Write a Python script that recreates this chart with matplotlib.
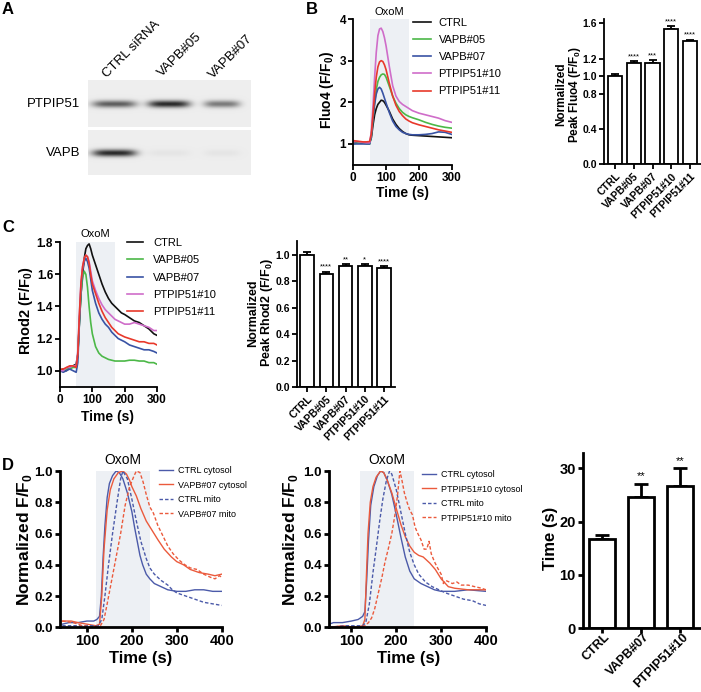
import numpy as np
import matplotlib.pyplot as plt
import matplotlib.transforms as mtransforms

plt.rcParams['font.family'] = ['Liberation Sans', 'DejaVu Sans']
plt.rcParams['mathtext.fontset'] = 'custom'
plt.rcParams['mathtext.rm'] = 'Liberation Sans'
plt.rcParams['mathtext.bf'] = 'Liberation Sans:bold'

# ---------------- data ----------------
# A: western blot band strengths (0..1) per lane
lanes = ['CTRL siRNA', 'VAPB#05', 'VAPB#07']
ptpip51_band = [0.62, 0.85, 0.50]
vapb_band = [0.85, 0.04, 0.04]

groups = ['CTRL', 'VAPB#05', 'VAPB#07', 'PTPIP51#10', 'PTPIP51#11']

# B: Fluo4 traces
t_b = [0, 10, 20, 30, 40, 50, 55, 60, 65, 70, 75, 80, 85, 90, 95, 100, 110, 120, 130, 140,
       150, 160, 170, 180, 200, 220, 240, 260, 280, 300]
fluo_ctrl = [1.05, 1.04, 1.03, 1.02, 1.02, 1.03, 1.15, 1.45, 1.70, 1.85, 1.95, 2.00, 2.05, 2.04, 2.00,
             1.93, 1.78, 1.60, 1.47, 1.37, 1.30, 1.25, 1.22, 1.21, 1.20, 1.19, 1.18, 1.17, 1.16, 1.15]
fluo_v05 = [1.00, 1.02, 1.03, 1.02, 1.00, 1.00, 1.20, 1.60, 2.00, 2.30, 2.50, 2.60, 2.66, 2.68, 2.67,
            2.60, 2.38, 2.15, 1.98, 1.85, 1.76, 1.70, 1.66, 1.63, 1.58, 1.52, 1.47, 1.43, 1.40, 1.38]
fluo_v07 = [1.00, 1.00, 1.00, 1.00, 1.00, 1.00, 1.20, 1.60, 1.95, 2.20, 2.32, 2.36, 2.32, 2.22, 2.10,
            1.98, 1.75, 1.55, 1.42, 1.34, 1.28, 1.25, 1.23, 1.22, 1.22, 1.23, 1.25, 1.29, 1.28, 1.23]
fluo_p10 = [1.05, 1.06, 1.05, 1.04, 1.03, 1.03, 1.30, 1.90, 2.60, 3.20, 3.60, 3.76, 3.78, 3.70, 3.55,
            3.35, 2.85, 2.40, 2.15, 2.02, 1.95, 1.90, 1.85, 1.80, 1.74, 1.70, 1.66, 1.62, 1.56, 1.52]
fluo_p11 = [1.08, 1.07, 1.06, 1.05, 1.05, 1.06, 1.25, 1.70, 2.20, 2.60, 2.85, 2.97, 3.00, 2.98, 2.90,
            2.78, 2.45, 2.15, 1.93, 1.78, 1.68, 1.60, 1.55, 1.51, 1.46, 1.42, 1.38, 1.34, 1.31, 1.28]
fluo_peak = [1.00, 1.155, 1.155, 1.535, 1.395]
fluo_err = [0.02, 0.02, 0.03, 0.035, 0.02]
fluo_stars = ['', '****', '***', '****', '****']

# C: Rhod2 traces
t_c = [0, 10, 20, 30, 40, 50, 55, 60, 65, 70, 75, 80, 85, 90, 95, 100, 110, 120, 130, 140,
       150, 160, 170, 180, 190, 200, 215, 230, 245, 260, 275, 290, 300]
rhod_ctrl = [1.00, 1.01, 1.00, 1.02, 1.03, 1.04, 1.10, 1.30, 1.48, 1.60, 1.70, 1.76, 1.78, 1.79, 1.76,
             1.72, 1.66, 1.60, 1.54, 1.49, 1.45, 1.42, 1.40, 1.38, 1.36, 1.35, 1.33, 1.31, 1.30, 1.28,
             1.26, 1.23, 1.22]
rhod_v05 = [1.00, 1.00, 1.01, 1.01, 1.02, 1.02, 1.10, 1.30, 1.48, 1.58, 1.62, 1.60, 1.52, 1.40, 1.30,
            1.23, 1.15, 1.11, 1.09, 1.08, 1.07, 1.065, 1.06, 1.06, 1.06, 1.06, 1.065, 1.065, 1.06, 1.06,
            1.05, 1.05, 1.04]
rhod_v07 = [1.00, 0.99, 1.00, 1.01, 1.00, 0.99, 1.05, 1.30, 1.52, 1.63, 1.68, 1.70, 1.68, 1.64, 1.57,
            1.50, 1.42, 1.36, 1.32, 1.29, 1.27, 1.24, 1.22, 1.20, 1.19, 1.18, 1.16, 1.15, 1.14, 1.13,
            1.13, 1.12, 1.11]
rhod_p10 = [1.00, 1.00, 1.02, 1.02, 1.03, 1.03, 1.12, 1.35, 1.55, 1.65, 1.70, 1.72, 1.71, 1.68, 1.62,
            1.56, 1.50, 1.45, 1.41, 1.38, 1.36, 1.34, 1.32, 1.31, 1.30, 1.29, 1.29, 1.30, 1.29, 1.28,
            1.27, 1.25, 1.25]
rhod_p11 = [1.01, 1.01, 1.02, 1.03, 1.03, 1.02, 1.10, 1.35, 1.55, 1.65, 1.70, 1.72, 1.71, 1.67, 1.60,
            1.54, 1.48, 1.42, 1.37, 1.33, 1.30, 1.27, 1.25, 1.23, 1.22, 1.21, 1.20, 1.19, 1.18, 1.18,
            1.17, 1.17, 1.16]
rhod_peak = [1.00, 0.855, 0.92, 0.915, 0.90]
rhod_err = [0.02, 0.02, 0.012, 0.015, 0.018]
rhod_stars = ['', '****', '**', '*', '****']

# D left: CTRL vs VAPB#07
t_d1_cc = [45, 60, 80, 100, 115, 122, 128, 132, 136, 140, 145, 150, 157, 165, 172, 180, 190, 200, 206,
           212, 218, 224, 232, 240, 250, 265, 280, 300, 320, 340, 360, 380, 400]
d1_ctrl_cyto = [0.02, 0.03, 0.03, 0.04, 0.04, 0.05, 0.07, 0.20, 0.45, 0.65, 0.83, 0.92, 0.97, 1.00, 0.99,
                0.95, 0.86, 0.74, 0.64, 0.55, 0.46, 0.40, 0.34, 0.31, 0.28, 0.26, 0.24, 0.23, 0.23, 0.24,
                0.24, 0.23, 0.23]
t_d1_cm = [45, 70, 100, 125, 133, 140, 148, 157, 167, 175, 180, 190, 200, 210, 220, 232, 240, 250, 265,
           280, 290, 300, 320, 340, 360, 380, 400]
d1_ctrl_mito = [0.01, 0.01, 0.01, 0.01, 0.05, 0.20, 0.40, 0.60, 0.80, 0.95, 1.00, 0.95, 0.82, 0.68, 0.55,
                0.44, 0.38, 0.34, 0.30, 0.27, 0.24, 0.22, 0.20, 0.18, 0.16, 0.15, 0.14]
t_d1_vc = [45, 65, 80, 100, 120, 128, 133, 138, 145, 152, 160, 170, 180, 188, 195, 200, 210, 220, 232,
           245, 258, 272, 288, 300, 315, 330, 350, 370, 385, 400]
d1_vapb_cyto = [0.04, 0.04, 0.03, 0.02, 0.01, 0.02, 0.20, 0.50, 0.75, 0.88, 0.95, 0.99, 1.00, 0.98, 0.94,
                0.90, 0.84, 0.76, 0.68, 0.62, 0.56, 0.50, 0.45, 0.42, 0.40, 0.37, 0.35, 0.34, 0.33, 0.34]
t_d1_vm = [45, 70, 90, 110, 130, 138, 145, 155, 165, 175, 185, 195, 205, 210, 218, 225, 232, 240, 248,
           258, 270, 280, 292, 305, 318, 330, 345, 360, 375, 385, 395, 400]
d1_vapb_mito = [0.04, 0.03, 0.01, 0.00, 0.01, 0.05, 0.15, 0.30, 0.45, 0.60, 0.78, 0.90, 0.97, 1.00, 0.99,
                0.93, 0.85, 0.77, 0.73, 0.65, 0.58, 0.52, 0.47, 0.43, 0.40, 0.38, 0.37, 0.34, 0.32, 0.31,
                0.33, 0.32]

# D middle: CTRL vs PTPIP51#10
t_d2_cc = [50, 60, 80, 100, 115, 125, 130, 134, 138, 143, 150, 158, 165, 172, 180, 190, 200, 210, 220,
           230, 240, 255, 270, 285, 300, 330, 360, 400]
d2_ctrl_cyto = [0.02, 0.03, 0.03, 0.04, 0.05, 0.07, 0.10, 0.30, 0.55, 0.78, 0.90, 0.97, 1.00, 0.99, 0.94,
                0.85, 0.72, 0.58, 0.45, 0.36, 0.31, 0.28, 0.26, 0.24, 0.23, 0.23, 0.24, 0.23]
t_d2_pc = [50, 80, 110, 125, 130, 133, 137, 142, 148, 155, 165, 172, 180, 190, 200, 210, 220, 230, 240,
           250, 260, 275, 287, 300, 316, 330, 360, 400]
d2_p10_cyto = [0.00, 0.01, 0.00, 0.01, 0.05, 0.30, 0.60, 0.80, 0.90, 0.96, 1.00, 0.99, 0.94, 0.86, 0.76,
               0.66, 0.58, 0.52, 0.48, 0.46, 0.45, 0.41, 0.37, 0.31, 0.26, 0.25, 0.24, 0.24]
t_d2_cm = [50, 90, 125, 132, 140, 148, 155, 163, 170, 178, 185, 190, 200, 210, 220, 230, 240, 250, 265,
           280, 295, 310, 330, 350, 370, 385, 400]
d2_ctrl_mito = [0.00, 0.01, 0.01, 0.03, 0.15, 0.35, 0.50, 0.68, 0.82, 0.94, 1.00, 0.98, 0.88, 0.74, 0.60,
                0.48, 0.40, 0.34, 0.29, 0.26, 0.24, 0.22, 0.20, 0.18, 0.17, 0.15, 0.14]
t_d2_pm = [50, 120, 130, 138, 145, 152, 160, 168, 175, 182, 190, 197, 203, 208, 212, 218, 224, 230, 236,
           242, 248, 255, 262, 268, 273, 278, 285, 292, 300, 305, 310, 318, 325, 335, 345, 360, 375, 390,
           400]
d2_p10_mito = [0.00, 0.00, 0.01, 0.03, 0.06, 0.12, 0.22, 0.32, 0.42, 0.50, 0.60, 0.72, 0.85, 1.00, 0.95,
               0.86, 0.80, 0.75, 0.72, 0.64, 0.60, 0.56, 0.50, 0.50, 0.55, 0.47, 0.42, 0.38, 0.34, 0.28,
               0.30, 0.29, 0.28, 0.29, 0.27, 0.27, 0.26, 0.25, 0.24]

# D right: time to peak
ttp_groups = ['CTRL', 'VAPB#07', 'PTPIP51#10']
ttp_mean = [16.7, 24.7, 26.7]
ttp_err = [0.7, 2.4, 3.3]
ttp_stars = ['', '**', '**']

# ---------------- figure ----------------
W, H = 701, 692
fig = plt.figure(figsize=(W / 100, H / 100), dpi=100)


def box(x0, y0, x1, y1):
    return fig.add_axes([x0 / W, 1 - y1 / H, (x1 - x0) / W, (y1 - y0) / H])


def ftext(x, y, s, **kw):
    return fig.text(x / W, 1 - y / H, s, **kw)


def style(ax, lw, fs):
    for s in ['top', 'right']:
        ax.spines[s].set_visible(False)
    for s in ['left', 'bottom']:
        ax.spines[s].set_linewidth(lw)
    ax.tick_params(width=lw, length=3.5, labelsize=fs, pad=1.5)
    for lab in ax.get_xticklabels() + ax.get_yticklabels():
        lab.set_fontweight('bold')


shade = '#edf0f4'
c_black, c_green, c_blue, c_mag, c_red = '#111111', '#4cb848', '#3953a4', '#cf6dc9', '#e8392b'
d_blue, d_red = '#4b5aa9', '#eb5a3c'

# ---- A: blot ----
for y0, y1, bands, cy in [(80, 127, ptpip51_band, 24), (130, 175, vapb_band, 23)]:
    ax = box(88, y0, 251, y1)
    hh = y1 - y0
    X, Y = np.meshgrid(np.arange(163) + 0.5, np.arange(hh) + 0.5)
    img = np.full(X.shape, 0.93)
    for cx, hw, a in zip([114.5 - 88, 169 - 88, 222 - 88], [22, 21, 18], bands):
        img -= a * 0.9 * np.exp(-((X - cx) / hw) ** 4) * np.exp(-((Y - cy) / 3.6) ** 2)
    ax.imshow(img, cmap='gray', vmin=0, vmax=1, extent=(0, 163, hh, 0), aspect='auto',
              interpolation='bilinear')
    ax.axis('off')
ftext(80, 104, 'PTPIP51', ha='right', va='center', fontsize=9.5)
ftext(80, 153, 'VAPB', ha='right', va='center', fontsize=9.5)
for (lx, ly), name in zip([(107, 78), (162, 77), (213, 79)], lanes):
    ftext(lx, ly, name, rotation=45, ha='left', va='baseline', rotation_mode='anchor', fontsize=9.5)

# ---- B: Fluo4 traces ----
ax = box(353.3, 19, 451.7, 164.8)
ax.axvspan(50, 170, color=shade, lw=0, zorder=0)
for vals, col, name in zip([fluo_ctrl, fluo_v05, fluo_v07, fluo_p10, fluo_p11],
                           [c_black, c_green, c_blue, c_mag, c_red], groups):
    ax.plot(t_b, vals, color=col, lw=1.2, label=name)
ax.set_xlim(0, 300)
ax.set_ylim(0.5, 4)
ax.set_xticks([0, 100, 200, 300])
ax.set_yticks([1, 2, 3, 4])
style(ax, 1.3, 8.5)
ax.text(110, 4.05, 'OxoM', ha='center', va='bottom', fontsize=8)
ax.legend(loc='upper left', bbox_to_anchor=(413 / W, 1 - 18 / H), bbox_transform=fig.transFigure,
          frameon=False, fontsize=8, handlelength=1.6, handletextpad=0.7, labelspacing=0.64,
          borderpad=0, borderaxespad=0)
ftext(402, 193, 'Time (s)', ha='center', va='center', fontsize=10, fontweight='bold')
ftext(327, 90, r'Fluo4 (F/F$_{\mathbf{0}}$)', ha='center', va='center', rotation=90,
      fontsize=10, fontweight='bold')

# ---- B: peak bars ----
ax = box(604, 19, 701, 164.3)
x = np.arange(len(groups))
ax.bar(x, fluo_peak, width=0.75, color='white', edgecolor='black', lw=1.3, zorder=2)
ax.errorbar(x, fluo_peak, yerr=[np.zeros(5), fluo_err], fmt='none', ecolor='black', elinewidth=1.3,
            capsize=3, capthick=1.3, zorder=1)
for i, s in enumerate(fluo_stars):
    ax.text(i, fluo_peak[i] + fluo_err[i] + 0.01, s, ha='center', va='bottom', fontsize=5.5)
ax.set_xlim(-0.59, 4.59)
ax.set_ylim(0, 1.65)
ax.set_yticks([0, 0.4, 0.8, 1.0, 1.2, 1.6])
ax.set_yticklabels(['0.0', '0.4', '0.8', '1.0', '1.2', '1.6'])
ax.set_xticks(x)
ax.set_xticklabels(groups, rotation=45, ha='right', rotation_mode='anchor')
style(ax, 1.3, 7.5)
ftext(569, 94, 'Normailzed\n' + r'Peak Fluo4 (F/F$_{\mathbf{0}}$)', ha='center', va='center',
      rotation=90, fontsize=8.5, fontweight='bold', linespacing=1.0)

# ---- C: Rhod2 traces ----
ax = box(60, 242.3, 157, 386.7)
ax.axvspan(50, 170, color=shade, lw=0, zorder=0)
for vals, col, name in zip([rhod_ctrl, rhod_v05, rhod_v07, rhod_p10, rhod_p11],
                           [c_black, c_green, c_blue, c_mag, c_red], groups):
    ax.plot(t_c, vals, color=col, lw=1.2, label=name)
ax.set_xlim(0, 300)
ax.set_ylim(0.9, 1.8)
ax.set_xticks([0, 100, 200, 300])
ax.set_yticks([1.0, 1.2, 1.4, 1.6, 1.8])
style(ax, 1.3, 8.5)
ax.text(110, 1.82, 'OxoM', ha='center', va='bottom', fontsize=8)
ax.legend(loc='upper left', bbox_to_anchor=(127 / W, 1 - 238 / H), bbox_transform=fig.transFigure,
          frameon=False, fontsize=8, handlelength=1.45, handletextpad=0.9, labelspacing=0.66,
          borderpad=0, borderaxespad=0)
ftext(108, 417, 'Time (s)', ha='center', va='center', fontsize=10, fontweight='bold')
ftext(26, 311, r'Rhod2 (F/F$_{\mathbf{0}}$)', ha='center', va='center', rotation=90,
      fontsize=10.5, fontweight='bold')

# ---- C: peak bars ----
ax = box(297, 240.5, 395, 387)
ax.bar(x, rhod_peak, width=0.7, color='white', edgecolor='black', lw=1.3, zorder=2)
ax.errorbar(x, rhod_peak, yerr=[np.zeros(5), rhod_err], fmt='none', ecolor='black', elinewidth=1.3,
            capsize=3, capthick=1.3, zorder=1)
for i, s in enumerate(rhod_stars):
    ax.text(i, rhod_peak[i] + rhod_err[i] + 0.005, s, ha='center', va='bottom', fontsize=5.5)
ax.set_xlim(-0.52, 4.57)
ax.set_ylim(0, 1.11)
ax.set_yticks([0, 0.2, 0.4, 0.6, 0.8, 1.0])
ax.set_yticklabels(['0.0', '0.2', '0.4', '0.6', '0.8', '1.0'])
ax.set_xticks(x)
ax.set_xticklabels(groups, rotation=45, ha='right', rotation_mode='anchor')
style(ax, 1.3, 7.5)
ftext(261, 313, 'Normalized\n' + r'Peak Rhod2 (F/F$_{\mathbf{0}}$)', ha='center', va='center',
      rotation=90, fontsize=9, fontweight='bold', linespacing=1.0)

# ---- D: normalized traces ----
panels = [
    (60, 221.7, 40, 'VAPB#07',
     [(t_d1_cc, d1_ctrl_cyto), (t_d1_vc, d1_vapb_cyto), (t_d1_cm, d1_ctrl_mito), (t_d1_vm, d1_vapb_mito)],
     159, 466, 24, 141),
    (329, 486, 50, 'PTPIP51#10',
     [(t_d2_cc, d2_ctrl_cyto), (t_d2_pc, d2_p10_cyto), (t_d2_cm, d2_ctrl_mito), (t_d2_pm, d2_p10_mito)],
     421.7, 470, 290, 408.5),
]
for x0, x1, xmin, other, series, lgx, lgy, ylx, xlx in panels:
    ax = box(x0, 471, x1, 627.3)
    ax.axvspan(120, 240, color=shade, lw=0, zorder=0)
    names = ['CTRL cytosol', other + ' cytosol', 'CTRL mito', other + ' mito']
    cols = [d_blue, d_red, d_blue, d_red]
    styles = ['-', '-', (0, (2.5, 1.5)), (0, (2.5, 1.5))]
    for (tt, vv), nm, col, ls in zip(series, names, cols, styles):
        ax.plot(tt, vv, color=col, lw=1.0, ls=ls, label=nm)
    ax.set_xlim(xmin, 400)
    ax.set_ylim(0, 1.0)
    ax.set_xticks([100, 200, 300, 400])
    ax.set_yticks([0, 0.2, 0.4, 0.6, 0.8, 1.0])
    ax.set_yticklabels(['0.0', '0.2', '0.4', '0.6', '0.8', '1.0'])
    style(ax, 2.0, 10.5)
    ax.tick_params(axis='y', labelsize=9.5)
    ax.text(180, 1.025, 'OxoM', ha='center', va='bottom', fontsize=10)
    ax.legend(loc='upper left', bbox_to_anchor=(lgx / W, 1 - lgy / H), bbox_transform=fig.transFigure,
              frameon=False, fontsize=6.5, handlelength=1.55, handletextpad=0.55, labelspacing=0.61,
              borderpad=0, borderaxespad=0)
    ftext(xlx, 658, 'Time (s)', ha='center', va='center', fontsize=12, fontweight='bold')
    ftext(ylx, 540, r'Normalized F/F$_{\mathbf{0}}$', ha='center', va='center', rotation=90,
          fontsize=12.5, fontweight='bold')

# ---- D: time-to-peak bars ----
ax = box(582.7, 453.3, 699.5, 628.3)
xd = np.arange(len(ttp_groups))
ax.bar(xd, ttp_mean, width=0.68, color='white', edgecolor='black', lw=2.0, zorder=2)
ax.errorbar(xd, ttp_mean, yerr=[np.zeros(3), ttp_err], fmt='none', ecolor='black', elinewidth=2.0,
            capsize=5, capthick=2.0, zorder=1)
for i, s in enumerate(ttp_stars):
    ax.text(i, ttp_mean[i] + ttp_err[i] + 0.4, s, ha='center', va='bottom', fontsize=8)
ax.set_xlim(-0.5, 2.5)
ax.set_ylim(0, 32.8)
ax.set_yticks([0, 10, 20, 30])
ax.set_xticks(xd)
ax.set_xticklabels(ttp_groups, rotation=45, ha='right', va='center', rotation_mode='anchor')
style(ax, 2.0, 10.5)
shift = mtransforms.ScaledTranslation(6 / 100, 0, fig.dpi_scale_trans)
for lab in ax.get_xticklabels():
    lab.set_fontsize(9)
    lab.set_transform(lab.get_transform() + shift)
ftext(550, 538, 'Time (s)', ha='center', va='center', rotation=90, fontsize=12, fontweight='bold')

# panel letters
for (px, py), L in zip([(8, 9), (312, 9), (8, 228), (8, 466)], 'ABCD'):
    ftext(px, py, L, ha='center', va='center', fontsize=12, fontweight='bold')

fig.savefig('out.png', dpi=100)
